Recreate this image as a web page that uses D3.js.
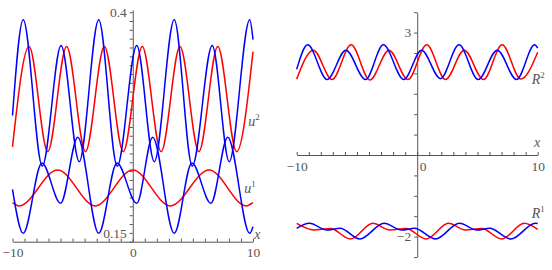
<!DOCTYPE html>
<html>
<head>
<meta charset="utf-8">
<script src="https://cdn.jsdelivr.net/npm/d3@7"></script>
<style>
  body { margin: 0; background: #fff; }
  svg text { font-family: "Liberation Serif", "DejaVu Serif", serif; fill: #555; }
  .axis path, .axis line { stroke: #555; }
</style>
</head>
<body>
<svg id="chart" width="552" height="270"></svg>
<script>
// left panel: u^2 and u^1, [x, value]
var u2Blue = [[-10, 0.283], [-9.11, 0.3914], [-7.52, 0.2258], [-5.96, 0.3622], [-4.45, 0.2307],
  [-2.83, 0.3914], [-1.29, 0.2258], [0.33, 0.3622], [1.79, 0.2307], [3.45, 0.3914],
  [4.95, 0.2258], [6.61, 0.3622], [8.02, 0.2307], [9.73, 0.3914], [10, 0.369]];
var u2Red = [[-10, 0.2475], [-8.62, 0.3611], [-7.07, 0.242], [-5.5, 0.3611], [-3.93, 0.242],
  [-2.36, 0.3611], [-0.79, 0.242], [0.79, 0.3611], [2.36, 0.242], [3.93, 0.3611],
  [5.5, 0.242], [7.07, 0.3611], [8.64, 0.242], [10, 0.3554]];
var u1Blue = [[-10, 0.1994], [-9.11, 0.1495], [-7.55, 0.2292], [-6.0, 0.1835], [-4.57, 0.2584],
  [-2.83, 0.1495], [-1.31, 0.2292], [0.33, 0.1835], [1.66, 0.2584], [3.45, 0.1495],
  [4.92, 0.2292], [6.5, 0.1835], [7.9, 0.2584], [9.73, 0.1495], [10, 0.157]];
var u1Red = [[-10, 0.1842], [-9.45, 0.1805], [-6.25, 0.2213], [-3.12, 0.1805], [0, 0.2213],
  [3.12, 0.1805], [6.35, 0.2213], [9.43, 0.1805], [10, 0.1842]];

// right panel: R^2 and R^1
var r2Blue = [[-10, 2.1], [-9.09, 2.70], [-7.47, 1.85], [-5.92, 2.57], [-4.29, 1.85],
  [-2.81, 2.70], [-1.11, 1.85], [0.36, 2.57], [1.93, 1.87], [3.47, 2.70],
  [5.06, 1.85], [6.64, 2.57], [8.24, 1.85], [9.75, 2.70], [10, 2.62]];
var r2Red = [[-10, 1.86], [-8.62, 2.57], [-7.07, 1.85], [-5.48, 2.70], [-3.93, 1.84],
  [-2.34, 2.57], [-0.77, 1.85], [0.79, 2.70], [2.35, 1.85], [3.90, 2.57],
  [5.5, 1.85], [7.05, 2.70], [8.6, 1.86], [10, 2.52]];
var r1Blue = [[-10, -1.80], [-8.95, -1.674], [-7.5, -1.838], [-6.4, -1.797], [-4.76, -2.059],
  [-2.75, -1.674], [-1.3, -1.838], [-0.22, -1.797], [1.52, -2.059], [3.5, -1.674],
  [4.95, -1.838], [6.0, -1.797], [7.78, -2.059], [9.8, -1.674], [10, -1.68]];
var r1Red = [[-10, -1.676], [-8.56, -1.838], [-7.2, -1.80], [-5.55, -2.059], [-3.68, -1.674],
  [-2.28, -1.838], [-0.92, -1.80], [0.73, -2.059], [2.6, -1.674], [4.0, -1.838],
  [5.36, -1.80], [7.01, -2.059], [8.88, -1.674], [10, -1.82]];

// tick labels
var leftXLabels = [-10, 0, 10];
var leftYLabels = [0.15, 0.4];
var rightXLabels = [-10, 0, 10];
var rightYLabels = [-2, 3];

var serif = '"Liberation Serif", "DejaVu Serif", serif';
var svg = d3.select('#chart');

var xL = d3.scaleLinear().domain([-10, 10]).range([12.5, 253]);
var yL = d3.scaleLinear().domain([0.14, 0.4025]).range([241.7, 10]);
var xR = d3.scaleLinear().domain([-10, 10]).range([296.7, 537.7]);
var yR = d3.scaleLinear().domain([-2.5, 3.5]).range([257, 12.2]);

function has(list, d) {
    return list.some(v => Math.abs(v - d) < 1e-9);
}

// left axes
svg.append('g').attr('class', 'axis')
    .attr('transform', 'translate(0,' + yL(0.14) + ')')
    .call(d3.axisBottom(xL)
        .tickValues(d3.range(-10, 11))
        .tickSizeInner(-3).tickSizeOuter(0).tickPadding(6)
        .tickFormat(d => has(leftXLabels, d) ? d3.format('d')(d) : ''));

svg.append('g').attr('class', 'axis')
    .attr('transform', 'translate(' + xL(0) + ',0)')
    .call(d3.axisLeft(yL)
        .tickValues(d3.range(14, 41).map(v => v / 100))
        .tickSizeInner(3).tickSizeOuter(0).tickPadding(3)
        .tickFormat(d => has(leftYLabels, d) ? String(+d.toFixed(2)) : ''));

// right axes
var gRx = svg.append('g').attr('class', 'axis')
    .attr('transform', 'translate(0,' + yR(0) + ')')
    .call(d3.axisBottom(xR)
        .tickValues(d3.range(-10, 11))
        .tickSizeInner(-3).tickSizeOuter(0).tickPadding(6)
        .tickFormat(d => has(rightXLabels, d) ? d3.format('d')(d) : ''));
gRx.selectAll('.tick').filter(d => d === 0).select('text')
    .attr('text-anchor', 'start').attr('x', 2);

svg.append('g').attr('class', 'axis')
    .attr('transform', 'translate(' + xR(0) + ',0)')
    .call(d3.axisLeft(yR)
        .tickValues(d3.range(-5, 8).map(v => v / 2))
        .tickSizeInner(3).tickSizeOuter(0).tickPadding(3)
        .tickFormat(d => has(rightYLabels, d) ? d3.format('d')(d) : ''));

svg.selectAll('.axis').attr('font-family', serif).attr('font-size', 13.5);
svg.selectAll('.axis text')
    .style('font-family', serif)
    .style('font-size', '13.5px')
    .style('fill', '#555');

// curves
function drawCurve(data, x, y, colour) {
    var line = d3.line()
        .x(d => x(d[0]))
        .y(d => y(d[1]))
        .curve(d3.curveMonotoneX);
    svg.append('path')
        .datum(data)
        .attr('d', line)
        .attr('fill', 'none')
        .attr('stroke', colour)
        .attr('stroke-width', 1.5);
}

drawCurve(u1Red, xL, yL, '#ff0000');
drawCurve(u2Red, xL, yL, '#ff0000');
drawCurve(u1Blue, xL, yL, '#0000ff');
drawCurve(u2Blue, xL, yL, '#0000ff');

drawCurve(r1Red, xR, yR, '#ff0000');
drawCurve(r2Red, xR, yR, '#ff0000');
drawCurve(r1Blue, xR, yR, '#0000ff');
drawCurve(r2Blue, xR, yR, '#0000ff');

// italic labels
function label(px, py, main, sup) {
    var t = svg.append('text')
        .attr('x', px).attr('y', py)
        .style('font-family', serif)
        .style('font-style', 'italic')
        .style('font-size', '14px');
    t.append('tspan').text(main);
    if (sup) {
        t.append('tspan')
            .attr('dy', -6)
            .style('font-style', 'normal')
            .style('font-size', '9px')
            .text(sup);
    }
}

label(xL(9.6), yL(0.2712), 'u', '2');
label(xL(9.27), yL(0.1955), 'u', '1');
label(xL(10.1), yL(0.1432), 'x');
label(xR(9.5), yR(1.75), 'R', '2');
label(xR(9.5), yR(-1.55), 'R', '1');
label(xR(9.7), yR(0.19), 'x');
</script>
</body>
</html>
